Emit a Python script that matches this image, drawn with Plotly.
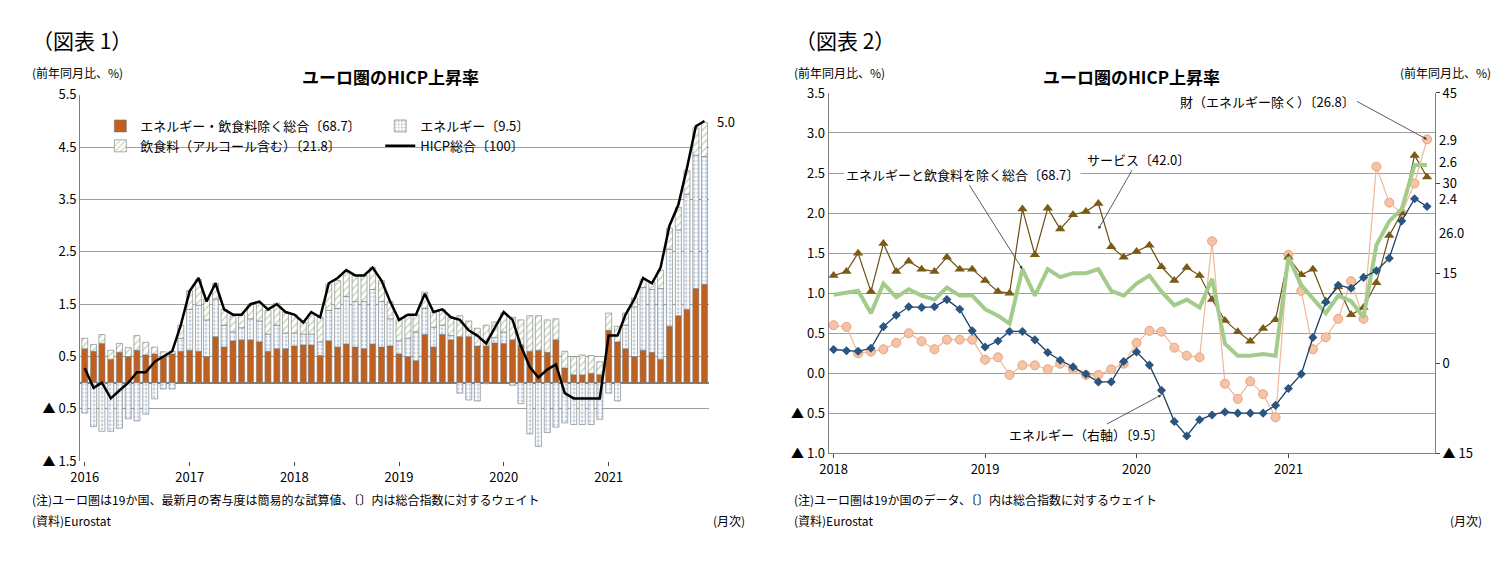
import pandas as pd
import plotly.graph_objects as go

FONT = "Noto Sans CJK JP"

# ---- chart 1 data (2016-01 .. 2021-12)
months1 = pd.date_range("2016-01-01", periods=72, freq="MS")
core1 = [.65, .6, .75, .45, .58, .5, .62, .53, .55, .5, .55, .6,
         .62, .6, .5, .88, .68, .8, .82, .82, .78, .6, .65, .65,
         .7, .72, .72, .52, .8, .68, .74, .68, .65, .74, .68, .7,
         .55, .5, .42, .92, .68, .92, .82, .88, .88, .7, .7, .76,
         .75, .82, .72, .6, .62, .58, .82, .28, .15, .15, .18, .15,
         1.0, .78, .65, .5, .62, .58, .45, 1.08, 1.28, 1.4, 1.8, 1.88]
energy1 = [-.58, -.84, -.93, -.93, -.87, -.69, -.73, -.6, -.31, -.12, -.12, .25,
           .78, .88, .7, .72, .42, .17, .23, .4, .4, .33, .45, .3,
           .25, .21, .21, .26, .58, .74, .91, .87, .9, 1.04, .87, .52,
           .25, .35, .55, .5, .38, .18, .08, -.2, -.33, -.35, -.02, .1,
           .22, -.05, -.4, -.98, -1.22, -.95, -.85, -.77, -.8, -.8, -.8, -.7,
           -.2, -.35, .45, .95, 1.2, 1.2, 1.35, 1.47, 1.64, 2.2, 2.55, 2.44]
food1 = [.2, .13, .17, .17, .17, .17, .28, .24, .13, .09, .05, .25,
         .36, .49, .4, .3, .3, .3, .25, .28, .34, .45, .42, .4,
         .35, .22, .39, .47, .5, .53, .47, .5, .5, .42, .4, .33,
         .4, .45, .33, .31, .29, .3, .35, .4, .3, .34, .4, .3,
         .36, .43, .48, .68, .66, .62, .4, .32, .35, .38, .34, .25,
         .33, .3, .23, .17, .15, .15, .35, .4, .43, .45, .52, .65]
hicp1 = [.28, -.1, 0.0, -.3, -.15, 0.0, .2, .2, .4, .5, .6, 1.1,
         1.75, 2.0, 1.55, 1.9, 1.4, 1.3, 1.3, 1.5, 1.55, 1.4, 1.5, 1.35,
         1.3, 1.15, 1.35, 1.25, 1.9, 2.0, 2.15, 2.05, 2.05, 2.2, 1.95, 1.55,
         1.2, 1.3, 1.3, 1.7, 1.35, 1.4, 1.25, 1.2, 1.0, .9, .75, 1.05,
         1.35, 1.2, .7, .3, .1, .25, .35, -.2, -.3, -.3, -.3, -.3,
         .9, .9, 1.3, 1.6, 2.0, 1.9, 2.2, 3.0, 3.4, 4.1, 4.9, 5.0]

# ---- chart 2 data (2018-01 .. 2021-12)
months2 = pd.date_range("2018-01-01", periods=48, freq="MS")
services = [1.22, 1.27, 1.5, 1.02, 1.62, 1.27, 1.4, 1.3, 1.27, 1.45, 1.3, 1.3,
            1.16, 1.02, 1.0, 2.05, 1.48, 2.06, 1.8, 1.98, 2.02, 2.12, 1.58, 1.45,
            1.52, 1.6, 1.33, 1.16, 1.32, 1.22, .92, .66, .52, .4, .56, .67,
            1.45, 1.23, 1.3, .9, 1.08, .73, .82, 1.13, 1.72, 2.0, 2.72, 2.45]
core2 = [.98, 1.0, 1.03, .75, 1.12, .95, 1.05, .97, .92, 1.07, .97, .97,
         .8, .72, .62, 1.3, .97, 1.3, 1.2, 1.25, 1.25, 1.3, 1.03, .97,
         1.12, 1.22, 1.02, .85, .92, .82, 1.18, .37, .22, .22, .24, .22,
         1.45, 1.1, .93, .75, .97, .9, .7, 1.6, 1.9, 2.05, 2.6, 2.6]
goods = [.6, .58, .25, .27, .3, .38, .5, .4, .3, .42, .42, .42,
         .17, .2, -.02, .1, .1, .05, .12, .05, -.02, -.02, .05, .12,
         .38, .53, .52, .32, .22, .2, 1.65, -.13, -.32, -.1, -.26, -.55,
         1.48, 1.03, .3, .45, .68, 1.15, .68, 2.58, 2.13, 2.0, 2.37, 2.92]
energy2 = [2.3, 2.1, 2.0, 2.5, 6.1, 8.0, 9.4, 9.3, 9.4, 10.6, 9.0, 5.4,
           2.7, 3.7, 5.3, 5.3, 3.9, 1.8, 0.5, -0.6, -1.8, -3.1, -3.1, 0.3,
           1.9, -0.3, -4.5, -9.7, -12.1, -9.4, -8.6, -8.1, -8.3, -8.3, -8.3, -7.0,
           -4.2, -1.8, 4.3, 10.2, 13.0, 12.5, 14.3, 15.4, 17.5, 23.7, 27.4, 26.1]

fig = go.Figure()

bar_line = dict(color="#777777", width=0.6)
fig.add_trace(go.Bar(x=months1, y=core1, name="エネルギー・飲食料除く総合〔68.7〕",
                     marker=dict(color="#c0601f", line=bar_line), legend="legend"))
fig.add_trace(go.Bar(x=months1, y=energy1, name="エネルギー〔9.5〕",
                     marker=dict(color="white", line=bar_line,
                                 pattern=dict(shape=".", fgcolor="#7f9fc8", size=4, solidity=0.4)),
                     legend="legend2"))
fig.add_trace(go.Bar(x=months1, y=food1, name="飲食料（アルコール含む）〔21.8〕",
                     marker=dict(color="white", line=bar_line,
                                 pattern=dict(shape="/", fgcolor="#8fb37a", size=5, solidity=0.3)),
                     legend="legend", legendrank=1))
fig.add_trace(go.Scatter(x=months1, y=hicp1, name="HICP総合〔100〕", mode="lines",
                         line=dict(color="black", width=2.5), legend="legend2"))

fig.add_trace(go.Scatter(x=months2, y=goods, mode="lines+markers", showlegend=False,
                         line=dict(color="#f0b896", width=1.2),
                         marker=dict(symbol="circle", size=9, color="#f5c4a6", line=dict(color="#e8a27c", width=1)),
                         xaxis="x2", yaxis="y2"))
fig.add_trace(go.Scatter(x=months2, y=services, mode="lines+markers", showlegend=False,
                         line=dict(color="#6b4f12", width=1.2),
                         marker=dict(symbol="triangle-up", size=9, color="#7a5a14"),
                         xaxis="x2", yaxis="y2"))
fig.add_trace(go.Scatter(x=months2, y=core2, mode="lines", showlegend=False,
                         line=dict(color="#a3cc8a", width=4),
                         xaxis="x2", yaxis="y2"))
fig.add_trace(go.Scatter(x=months2, y=energy2, mode="lines+markers", showlegend=False,
                         line=dict(color="#1f3f66", width=1.3),
                         marker=dict(symbol="diamond", size=7, color="#2a5580"),
                         xaxis="x2", yaxis="y3"))

tickf = dict(family=FONT, size=13, color="black")
grid = "#a0a0a0"
legf = dict(family=FONT, size=13, color="black")
fig.update_layout(
    width=1507, height=566, paper_bgcolor="white", plot_bgcolor="white",
    margin=dict(l=0, r=0, t=0, b=0), barmode="relative", bargap=0.25,
    font=dict(family=FONT, color="black"),
    legend=dict(x=0.055, y=0.83, xanchor="left", yanchor="top", font=legf,
                bgcolor="rgba(0,0,0,0)", traceorder="reversed", tracegroupgap=4),
    legend2=dict(x=0.242, y=0.83, xanchor="left", yanchor="top", font=legf,
                 bgcolor="rgba(0,0,0,0)", traceorder="normal", tracegroupgap=4),
    xaxis=dict(domain=[0.0415, 0.4618], type="date",
               range=["2015-12-16", "2021-12-18"],
               tickvals=pd.date_range("2016-01-01", periods=6, freq="YS"),
               ticktext=[str(y) for y in range(2016, 2022)],
               showgrid=False, ticks="outside", ticklen=4, tickfont=tickf,
               anchor="y", showline=False),
    yaxis=dict(domain=[0.1898, 0.8595], range=[-1.5, 5.5],
               tickvals=[-1.5, -0.5, 0.5, 1.5, 2.5, 3.5, 4.5, 5.5],
               ticktext=["▲ 1.5", "▲ 0.5", "0.5", "1.5", "2.5", "3.5", "4.5", "5.5"],
               showgrid=True, gridcolor=grid, zeroline=True, zerolinecolor="#808080",
               tickfont=tickf, showline=True, linecolor="#808080"),
    xaxis2=dict(domain=[0.5415, 0.9465], type="date",
                range=["2017-12-20", "2021-12-20"],
                tickvals=pd.date_range("2018-01-01", periods=4, freq="YS"),
                ticktext=[str(y) for y in range(2018, 2022)],
                showgrid=False, ticks="outside", ticklen=4, tickfont=tickf,
                anchor="y2", showline=True, linecolor="#808080"),
    yaxis2=dict(domain=[0.204, 0.863], range=[-1.0, 3.5], anchor="x2",
                tickvals=[-1.0, -0.5, 0, 0.5, 1, 1.5, 2, 2.5, 3, 3.5],
                ticktext=["▲ 1.0", "▲ 0.5", "0.0", "0.5", "1.0", "1.5", "2.0", "2.5", "3.0", "3.5"],
                showgrid=True, gridcolor=grid, zeroline=False,
                tickfont=tickf, showline=True, linecolor="#808080"),
    yaxis3=dict(overlaying="y2", side="right", anchor="x2", range=[-15, 45],
                tickvals=[-15, 0, 15, 30, 45], ticktext=["▲ 15", "0", "15", "30", "45"],
                showgrid=False, zeroline=False, tickfont=tickf,
                showline=True, linecolor="#808080", ticks="outside", ticklen=4),
)

def txt(x, y, s, size=12, xanchor="left", bold=False, **kw):
    fig.add_annotation(x=x, y=y, xref="paper", yref="paper", text=f"<b>{s}</b>" if bold else s,
                       showarrow=False, xanchor=xanchor, yanchor="middle",
                       font=dict(family=FONT, size=size, color="black"), **kw)

txt(0.008, 0.96, "（図表 1）", size=21)
txt(0.518, 0.96, "（図表 2）", size=21)
txt(0.008, 0.901, "(前年同月比、%)", size=12)
txt(0.517, 0.901, "(前年同月比、%)", size=12)
txt(0.985, 0.901, "(前年同月比、%)", size=12, xanchor="right")
txt(0.249, 0.893, "ユーロ圏のHICP上昇率", size=17, xanchor="center", bold=True)
txt(0.744, 0.893, "ユーロ圏のHICP上昇率", size=17, xanchor="center", bold=True)
txt(0.008, 0.12, "(注)ユーロ圏は19か国、最新月の寄与度は簡易的な試算値、〔〕内は総合指数に対するウェイト", size=12)
txt(0.008, 0.082, "(資料)Eurostat", size=12)
txt(0.487, 0.082, "(月次)", size=12, xanchor="right")
txt(0.517, 0.12, "(注)ユーロ圏は19か国のデータ、〔〕内は総合指数に対するウェイト", size=12)
txt(0.517, 0.082, "(資料)Eurostat", size=12)
txt(0.979, 0.082, "(月次)", size=12, xanchor="right")

# end labels
fig.add_annotation(x=months1[-1], y=hicp1[-1], xref="x", yref="y", text="5.0", showarrow=False,
                   xshift=22, font=dict(family=FONT, size=13))
for yy, s in [(0.777, "2.9"), (0.737, "2.6"), (0.67, "2.4"), (0.608, "26.0")]:
    txt(0.948, yy, s, size=13)

arrow = dict(showarrow=True, arrowhead=2, arrowsize=0.8, arrowwidth=0.8, arrowcolor="#333333",
             xref="x2", yref="y2", font=dict(family=FONT, size=13, color="black"), bgcolor="white")
fig.add_annotation(x=months2[-1], y=goods[-1], text="財（エネルギー除く）〔26.8〕",
                   ax=-70, ay=-38, xanchor="right", **arrow)
fig.add_annotation(x=months2[15], y=core2[15], text="エネルギーと飲食料を除く総合〔68.7〕",
                   ax=-60, ay=-95, **arrow)
fig.add_annotation(x=months2[21], y=1.8, text="サービス〔42.0〕",
                   ax=40, ay=-70, **arrow)
fig.add_annotation(x=months2[26], y=-0.27, text="エネルギー（右軸）〔9.5〕",
                   ax=-75, ay=40, **arrow)

fig.write_html("out.html")
